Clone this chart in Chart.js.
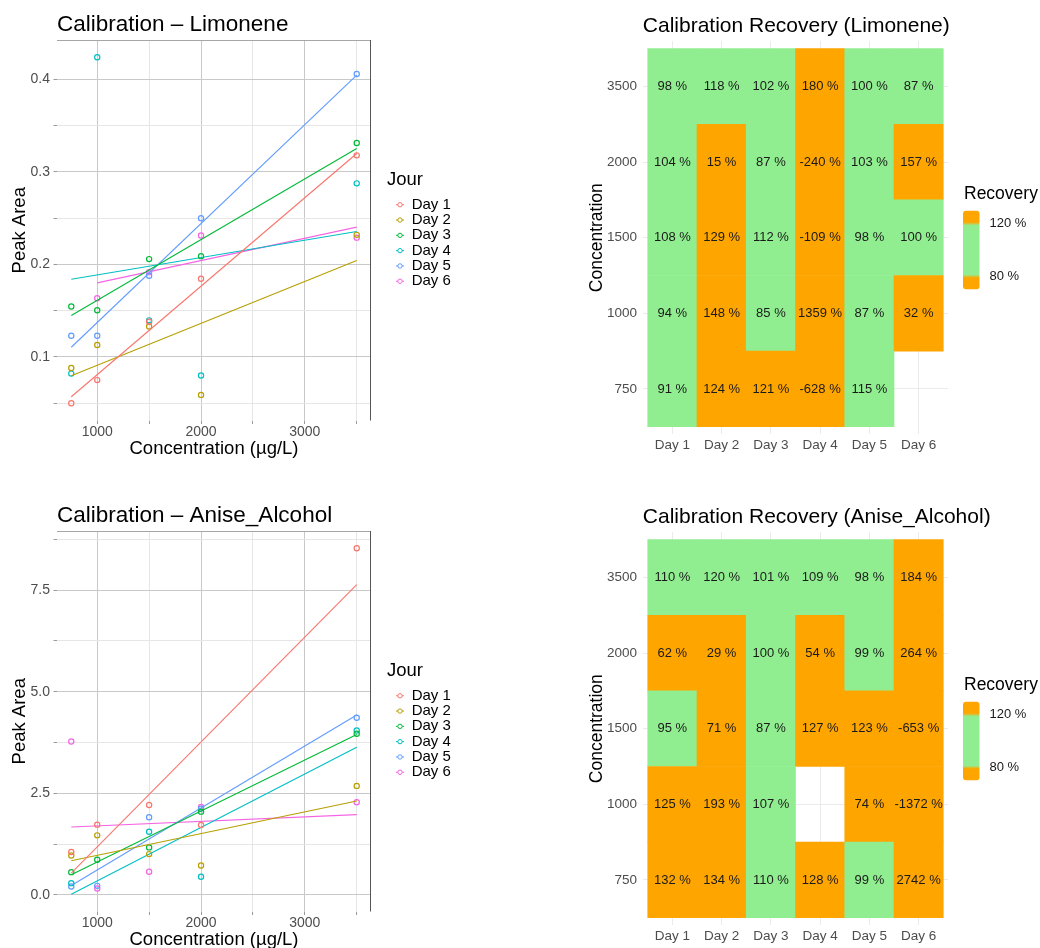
<!DOCTYPE html>
<html>
<head>
<meta charset="utf-8">
<title>Calibration</title>
<script src="https://cdn.jsdelivr.net/npm/chart.js@4.4.1/dist/chart.umd.min.js"></script>
<style>
  html, body { margin: 0; padding: 0; background: #fff; overflow: hidden; }
  #page { position: relative; width: 1040px; height: 948px; }
  canvas { position: absolute; }
</style>
</head>
<body>
<div id="page">
  <canvas id="limCal" width="520" height="474" style="left:0;top:0"></canvas>
  <canvas id="limRec" width="480" height="474" style="left:560px;top:0"></canvas>
  <canvas id="aniCal" width="520" height="474" style="left:0;top:491px"></canvas>
  <canvas id="aniRec" width="480" height="474" style="left:560px;top:491px"></canvas>
</div>
<script>
// ---- data ----
const concentrations = [750, 1000, 1500, 2000, 3500];
const days = ['Day 1', 'Day 2', 'Day 3', 'Day 4', 'Day 5', 'Day 6'];
const dayColors = ['#F8766D', '#B79F00', '#00BA38', '#00BFC4', '#619CFF', '#F564E3'];

// peak areas, one row per day, aligned with concentrations
const limPeak = [
    [0.050, 0.075, 0.138, 0.1845, 0.318],
    [0.088, 0.113, 0.133, 0.059, 0.232],
    [0.1545, 0.1505, 0.2058, 0.209, 0.3314],
    [0.082, 0.424, 0.1396, 0.080, 0.2877],
    [0.123, 0.123, 0.1878, 0.250, 0.406],
    [null, 0.1635, 0.1917, 0.2313, 0.229]
];
// fitted line values at the first and last concentration, per day
const limFitLo = [0.057, 0.0798, 0.1448, 0.1841, 0.1105, 0.1801];
const limFitHi = [0.320, 0.2043, 0.3253, 0.2357, 0.4047, 0.2404];

const aniPeak = [
    [1.053, 1.727, 2.212, 1.719, 8.528],
    [0.970, 1.464, 1.003, 0.724, 2.681],
    [0.559, 0.863, 1.168, 2.048, 3.964],
    [0.288, null, 1.554, 0.444, 4.046],
    [0.206, 0.222, 1.908, 2.120, 4.359],
    [3.775, 0.156, 0.567, 2.163, 2.278]
];
const aniFitLo = [0.535, 0.839, 0.493, 0.016, 0.230, 1.669];
const aniFitHi = [7.632, 2.311, 3.947, 3.635, 4.424, 1.974];

// recovery %, one row per concentration (750 -> 3500), one column per day
const limRecovery = [
    [91, 124, 121, -628, 115, null],
    [94, 148, 85, 1359, 87, 32],
    [108, 129, 112, -109, 98, 100],
    [104, 15, 87, -240, 103, 157],
    [98, 118, 102, 180, 100, 87]
];
const aniRecovery = [
    [132, 134, 110, 128, 99, 2742],
    [125, 193, 107, null, 74, -1372],
    [95, 71, 87, 127, 123, -653],
    [62, 29, 100, 54, 99, 264],
    [110, 120, 101, 109, 98, 184]
];

// ticks
const calXTicks = [1000, 1500, 2000, 2500, 3000, 3500];
const calXLabels = ['1000', '', '2000', '', '3000', ''];
const limYTicks = [0.05, 0.1, 0.15, 0.2, 0.25, 0.3, 0.35, 0.4];
const limYLabels = ['', '0.1', '', '0.2', '', '0.3', '', '0.4'];
const aniYTicks = [0, 1.25, 2.5, 3.75, 5, 6.25, 7.5, 8.75];
const aniYLabels = ['0.0', '', '2.5', '', '5.0', '', '7.5', ''];

// recovery colour bar: breaks and the range shown in the bar
const recBreaks = [80, 120];
const recBarRange = [70, 130];

// ---- helpers ----
const FONT = "'Liberation Sans', Arial, sans-serif";
Chart.defaults.font.family = FONT;
Chart.defaults.color = '#4D4D4D';
Chart.defaults.animation = false;

const ORANGE = '#FFA500';
const GREEN = '#90EE90';

function recoveryColor(v) {
    return (v < recBreaks[0] || v > recBreaks[1]) ? ORANGE : GREEN;
}

function font(size) {
    return size + 'px ' + FONT;
}

// title, top/right panel border and the "Jour" legend
const calibrationDecor = {
    id: 'calibrationDecor',
    afterDraw(chart, args, opts) {
        const {ctx, chartArea: a} = chart;
        ctx.save();
        ctx.lineWidth = 1;
        ctx.strokeStyle = '#A6A6A6';
        ctx.beginPath();
        ctx.moveTo(a.left, a.top + 0.5);
        ctx.lineTo(a.right, a.top + 0.5);
        ctx.stroke();
        ctx.strokeStyle = '#555';
        ctx.beginPath();
        ctx.moveTo(a.right - 0.5, a.top);
        ctx.lineTo(a.right - 0.5, a.bottom);
        ctx.stroke();

        ctx.fillStyle = '#000';
        ctx.font = font(22.5);
        ctx.textBaseline = 'alphabetic';
        ctx.fillText(opts.title, a.left, a.top - 9.3);

        const lx = a.right + 16;
        const my = (a.top + a.bottom) / 2;
        ctx.textBaseline = 'middle';
        ctx.font = font(18.5);
        ctx.fillText('Jour', lx, my - 50.5);
        ctx.font = font(15);
        days.forEach((day, d) => {
            const y = my - 25.5 + d * 15.3;
            ctx.strokeStyle = dayColors[d];
            ctx.lineWidth = 1;
            ctx.beginPath();
            ctx.moveTo(lx + 9, y);
            ctx.lineTo(lx + 17, y);
            ctx.stroke();
            ctx.fillStyle = '#fff';
            ctx.beginPath();
            ctx.arc(lx + 13, y, 2.2, 0, Math.PI * 2);
            ctx.fill();
            ctx.stroke();
            ctx.fillStyle = '#000';
            ctx.fillText(day, lx + 24.7, y);
        });
        ctx.restore();
    }
};

// cell labels, title and the colour bar legend
const recoveryDecor = {
    id: 'recoveryDecor',
    afterDatasetsDraw(chart) {
        const {ctx} = chart;
        ctx.save();
        ctx.font = font(13);
        ctx.fillStyle = '#1A1A1A';
        ctx.textAlign = 'center';
        ctx.textBaseline = 'middle';
        chart.data.datasets.forEach((ds, i) => {
            chart.getDatasetMeta(i).data.forEach((el, j) => {
                const p = el.getCenterPoint();
                ctx.fillText(ds.data[j].rec + ' %', p.x, p.y);
            });
        });
        ctx.restore();
    },
    afterDraw(chart, args, opts) {
        const {ctx, chartArea: a} = chart;
        ctx.save();
        ctx.fillStyle = '#000';
        ctx.font = font(21);
        ctx.textBaseline = 'alphabetic';
        ctx.fillText(opts.title, a.left, a.top - 8.8);

        const my = (a.top + a.bottom) / 2;
        const bx = a.right + 14.8, bw = 16.5;
        const top = my - 27, h = 78.6;
        ctx.textBaseline = 'middle';
        ctx.font = font(17.5);
        ctx.fillText('Recovery', bx + 1, my - 43.7);

        const frac = v => (v - recBarRange[0]) / (recBarRange[1] - recBarRange[0]);
        const g = ctx.createLinearGradient(0, top + h, 0, top);
        const f0 = frac(recBreaks[0]), f1 = frac(recBreaks[1]);
        g.addColorStop(0, ORANGE);
        g.addColorStop(f0 - 0.02, ORANGE);
        g.addColorStop(f0 + 0.02, GREEN);
        g.addColorStop(f1 - 0.02, GREEN);
        g.addColorStop(f1 + 0.02, ORANGE);
        g.addColorStop(1, ORANGE);
        ctx.fillStyle = g;
        ctx.beginPath();
        ctx.roundRect(bx, top, bw, h, 3);
        ctx.fill();

        ctx.fillStyle = '#1A1A1A';
        ctx.font = font(13);
        recBreaks.forEach(v => {
            ctx.fillText(v + ' %', bx + bw + 10, top + h - frac(v) * h);
        });
        ctx.restore();
    }
};

// ---- calibration scatter with fitted lines ----
function makeCalibration(id, title, peaks, fitLo, fitHi, yTicks, yLabels) {
    const datasets = [];
    const all = [];
    days.forEach((day, d) => {
        const pts = [];
        concentrations.forEach((c, i) => {
            if (peaks[d][i] !== null) pts.push({x: c, y: peaks[d][i]});
        });
        all.push(...pts.map(p => p.y), fitLo[d], fitHi[d]);
        datasets.push({
            label: day,
            data: pts,
            borderColor: dayColors[d],
            backgroundColor: 'transparent',
            pointRadius: 2.6,
            pointBorderWidth: 1.2,
            showLine: false
        });
        datasets.push({
            label: day + ' fit',
            data: [{x: pts[0].x, y: fitLo[d]}, {x: concentrations[concentrations.length - 1], y: fitHi[d]}],
            borderColor: dayColors[d],
            borderWidth: 1.1,
            pointRadius: 0,
            showLine: true
        });
    });

    const xLo = concentrations[0], xHi = concentrations[concentrations.length - 1];
    const yLo = Math.min(...all), yHi = Math.max(...all);
    const isMajor = (ticks, labels, v) => labels[ticks.indexOf(v)] !== '';

    return new Chart(document.getElementById(id), {
        type: 'scatter',
        data: {datasets},
        options: {
            responsive: false,
            layout: {padding: {top: 40, right: 149, left: 0, bottom: 0}},
            plugins: {
                legend: {display: false},
                tooltip: {enabled: false},
                calibrationDecor: {title}
            },
            scales: {
                x: {
                    type: 'linear',
                    min: xLo - (xHi - xLo) * 0.05,
                    max: xHi + (xHi - xLo) * 0.05,
                    afterBuildTicks: s => { s.ticks = calXTicks.map(v => ({value: v})); },
                    afterFit: s => { s.height = 53.5; },
                    ticks: {
                        font: {size: 14, lineHeight: 1},
                        color: '#4D4D4D',
                        padding: 1,
                        maxRotation: 0,
                        autoSkip: false,
                        callback: v => calXLabels[calXTicks.indexOf(v)]
                    },
                    grid: {
                        color: c => isMajor(calXTicks, calXLabels, c.tick.value) ? '#C9C9C9' : '#E6E6E6',
                        tickColor: '#9A9A9A',
                        tickLength: 3.5
                    },
                    border: {display: false},
                    title: {
                        display: true,
                        text: 'Concentration (µg/L)',
                        color: '#000',
                        font: {size: 18.5},
                        padding: {top: 0, bottom: 14}
                    }
                },
                y: {
                    type: 'linear',
                    min: yLo - (yHi - yLo) * 0.05,
                    max: yHi + (yHi - yLo) * 0.05,
                    afterBuildTicks: s => { s.ticks = yTicks.map(v => ({value: v})); },
                    afterFit: s => { s.width = 57; },
                    ticks: {
                        font: {size: 14},
                        color: '#4D4D4D',
                        padding: 3.5,
                        autoSkip: false,
                        callback: v => yLabels[yTicks.indexOf(v)]
                    },
                    grid: {
                        color: c => isMajor(yTicks, yLabels, c.tick.value) ? '#C9C9C9' : '#E6E6E6',
                        tickColor: '#9A9A9A',
                        tickLength: 3.5
                    },
                    border: {display: false},
                    title: {
                        display: true,
                        text: 'Peak Area',
                        color: '#000',
                        font: {size: 18.5},
                        padding: {top: 9, bottom: 0}
                    }
                }
            }
        },
        plugins: [calibrationDecor]
    });
}

// ---- recovery heatmap drawn as floating bars ----
function makeRecovery(id, title, table) {
    const datasets = table.map((row, r) => ({
        label: String(concentrations[r]),
        data: row.map((v, c) => v === null ? null : {x: c, y: [r - 0.5, r + 0.5], rec: v}).filter(p => p),
        backgroundColor: c => recoveryColor(c.raw ? c.raw.rec : 100),
        borderWidth: 0,
        grouped: false,
        barPercentage: 1,
        categoryPercentage: 1
    }));

    return new Chart(document.getElementById(id), {
        type: 'bar',
        data: {datasets},
        options: {
            responsive: false,
            layout: {padding: {top: 41.1, right: 91.8, left: 0, bottom: 0}},
            plugins: {
                legend: {display: false},
                tooltip: {enabled: false},
                recoveryDecor: {title}
            },
            scales: {
                x: {
                    type: 'linear',
                    offset: false,
                    min: -0.6,
                    max: days.length - 0.4,
                    afterBuildTicks: s => { s.ticks = days.map((d, i) => ({value: i})); },
                    afterFit: s => { s.height = 39.7; },
                    ticks: {
                        font: {size: 13.5},
                        color: '#4D4D4D',
                        padding: 2.6,
                        maxRotation: 0,
                        autoSkip: false,
                        callback: v => days[v]
                    },
                    grid: {color: '#EBEBEB', drawTicks: false, offset: false},
                    border: {display: false}
                },
                y: {
                    type: 'linear',
                    min: -0.6,
                    max: concentrations.length - 0.4,
                    afterBuildTicks: s => { s.ticks = concentrations.map((c, i) => ({value: i})); },
                    afterFit: s => { s.width = 82.8; },
                    ticks: {
                        font: {size: 13.5},
                        color: '#4D4D4D',
                        padding: 5.8,
                        autoSkip: false,
                        callback: v => String(concentrations[v])
                    },
                    grid: {color: '#EBEBEB', drawTicks: false},
                    border: {display: false},
                    title: {
                        display: true,
                        text: 'Concentration',
                        color: '#000',
                        font: {size: 17.5},
                        padding: {top: 26.8, bottom: 0}
                    }
                }
            }
        },
        plugins: [recoveryDecor]
    });
}

makeCalibration('limCal', 'Calibration \u2013 Limonene', limPeak, limFitLo, limFitHi, limYTicks, limYLabels);
makeRecovery('limRec', 'Calibration Recovery (Limonene)', limRecovery);
makeCalibration('aniCal', 'Calibration \u2013 Anise_Alcohol', aniPeak, aniFitLo, aniFitHi, aniYTicks, aniYLabels);
makeRecovery('aniRec', 'Calibration Recovery (Anise_Alcohol)', aniRecovery);
</script>
</body>
</html>
